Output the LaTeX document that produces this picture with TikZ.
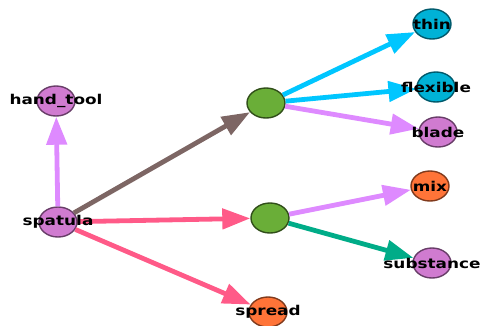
\documentclass[tikz,border=0pt]{standalone}
\usepackage{fontspec}
\newfontfamily\lblfont[FakeStretch=1.25]{DejaVu Sans}
\usetikzlibrary{shapes.geometric,arrows.meta}
\definecolor{nodepurple}{HTML}{D07BD0}
\definecolor{nodegreen}{HTML}{6AAE38}
\definecolor{nodecyan}{HTML}{00B2D6}
\definecolor{nodeorange}{HTML}{FF7438}
\definecolor{edgeviolet}{HTML}{DE8AFF}
\definecolor{edgecyan}{HTML}{00C6FF}
\definecolor{edgebrown}{HTML}{7D6664}
\definecolor{edgepink}{HTML}{FF5A88}
\definecolor{edgeteal}{HTML}{00AC88}
\tikzset{
  x=1pt, y=-1pt,
  vert/.style={ellipse, minimum width=38pt, minimum height=30pt, inner sep=0pt, line width=1.4pt},
  vpurple/.style={vert, fill=nodepurple, draw=nodepurple!50!black},
  vgreen/.style={vert, fill=nodegreen, draw=nodegreen!45!black},
  vcyan/.style={vert, fill=nodecyan, draw=nodecyan!50!black},
  vorange/.style={vert, fill=nodeorange, draw=nodeorange!50!black},
  lbl/.style={font=\lblfont\bfseries\fontsize{13.5}{13.5}\selectfont, text=black, inner sep=0pt},
  edge/.style={line width=4.8pt, -{Triangle[length=28pt,width=20pt]}},
}
\begin{document}
\begin{tikzpicture}
\useasboundingbox (0,0) rectangle (482,325);
% vertices
\node[vpurple] (ht) at (56,101) {};
\node[vpurple] (sp) at (58,222) {};
\node[vgreen]  (g1) at (266,103) {};
\node[vgreen]  (g2) at (270,218) {};
\node[vcyan]   (th) at (432,24) {};
\node[vcyan]   (fl) at (436,87) {};
\node[vpurple] (bl) at (438,132) {};
\node[vorange] (mx) at (430,186) {};
\node[vpurple] (su) at (432,263) {};
\node[vorange] (spr) at (268,312) {};
% connectors
\draw[edge, edgeviolet] (sp) -- (ht);
\draw[edge, edgebrown]  (sp) -- (g1);
\draw[edge, edgepink]   (sp) -- (g2);
\draw[edge, edgepink]   (sp) -- (spr);
\draw[edge, edgecyan]   (g1) -- (th);
\draw[edge, edgecyan]   (g1) -- (fl);
\draw[edge, edgeviolet] (g1) -- (bl);
\draw[edge, edgeviolet] (g2) -- (mx);
\draw[edge, edgeteal]   (g2) -- (su);
% labels
\node[lbl] at (ht)  {hand\_tool};
\node[lbl] at (sp)  {spatula};
\node[lbl] at (th)  {thin};
\node[lbl] at (fl)  {flexible};
\node[lbl] at (bl)  {blade};
\node[lbl] at (mx)  {mix};
\node[lbl] at (su)  {substance};
\node[lbl] at (spr) {spread};
\end{tikzpicture}
\end{document}
